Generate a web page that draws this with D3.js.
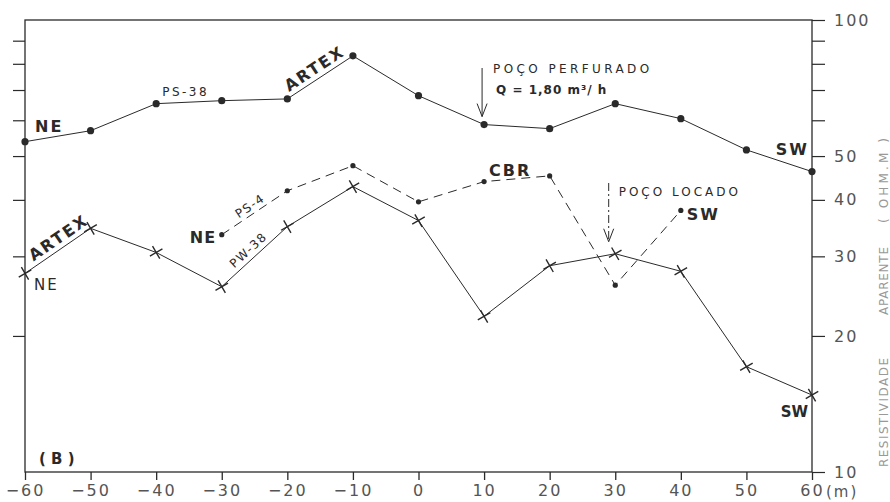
<!DOCTYPE html>
<html>
<head>
<meta charset="utf-8">
<script src="https://cdn.jsdelivr.net/npm/d3@7"></script>
<style>
  html, body { margin: 0; padding: 0; background: #fff; }
  svg { display: block; font-family: "DejaVu Sans", sans-serif; }
</style>
</head>
<body>
<div id="chart"></div>
<script>
// distances (m) along the profile
const distance = [-60, -50, -40, -30, -20, -10, 0, 10, 20, 30, 40, 50, 60];
// apparent resistivity (ohm.m)
const ps38 = [53.8, 56.9, 65.3, 66.3, 66.9, 83.3, 68.0, 58.7, 57.5, 65.3, 60.5, 51.6, 46.2];
const ps4Distance = [-30, -20, -10, 0, 10, 20, 30, 40];
const ps4 = [33.5, 41.9, 47.6, 39.6, 43.9, 45.2, 25.9, 37.9];
const pw38 = [27.5, 34.6, 30.6, 25.7, 34.9, 42.8, 36.0, 22.1, 28.6, 30.4, 27.8, 17.1, 14.8];

const xTicks = [-60, -50, -40, -30, -20, -10, 0, 10, 20, 30, 40, 50, 60];
const yTicks = [10, 20, 30, 40, 50, 60, 70, 80, 90, 100];
const yTickLabels = [10, 20, 30, 40, 50, 100];

const width = 890, height = 502;
const ink = '#2a2a2a';

const svg = d3.select('#chart').append('svg').attr('width', width).attr('height', height);

const x = d3.scaleLinear().domain([-60, 60]).range([25, 812]);
const y = d3.scaleLog().domain([10, 100]).range([472, 20]);

// frame
svg.append('rect')
  .attr('x', x(-60)).attr('y', y(100))
  .attr('width', x(60) - x(-60)).attr('height', y(10) - y(100))
  .attr('fill', 'none').attr('stroke', ink).attr('stroke-width', 1.3);

// bottom axis
const gx = svg.append('g').attr('transform', `translate(0,${y(10)})`)
  .call(d3.axisBottom(x).tickValues(xTicks).tickSize(8).tickPadding(5));
gx.select('.domain').remove();
gx.selectAll('line').attr('stroke', ink).attr('stroke-width', 1.3);
gx.selectAll('text').attr('font-size', 16).attr('fill', '#555').attr('letter-spacing', 2)
  .attr('font-family', '"DejaVu Sans", sans-serif');
svg.append('text').attr('x', x(60) + 14).attr('y', y(10) + 25)
  .attr('font-size', 15).attr('fill', '#555').attr('letter-spacing', 2).text('(m)');

// left axis: ticks only
const gl = svg.append('g').attr('transform', `translate(${x(-60)},0)`)
  .call(d3.axisLeft(y).tickValues(yTicks.filter(v => v > 10 && v < 100)).tickSize(12).tickFormat(''));
gl.select('.domain').remove();
gl.selectAll('line').attr('stroke', ink).attr('stroke-width', 1.2);

// right axis
const gr = svg.append('g').attr('transform', `translate(${x(60)},0)`)
  .call(d3.axisRight(y).tickValues(yTicks).tickSize(13).tickPadding(9)
    .tickFormat(d => yTickLabels.includes(d) ? d : ''));
gr.select('.domain').remove();
gr.selectAll('line').attr('stroke', ink).attr('stroke-width', 1.2);
gr.selectAll('text').attr('font-size', 16).attr('fill', '#555').attr('letter-spacing', 2)
  .attr('font-family', '"DejaVu Sans", sans-serif');

// y title
const title = [['RESISTIVIDADE', 467, 109], ['APARENTE', 315, 68], ['( OHM.M )', 223, 85]];
title.forEach(([t, y0, len]) => {
  svg.append('text').attr('transform', `translate(888,${y0}) rotate(-90)`)
    .attr('font-size', 12).attr('fill', '#999')
    .attr('textLength', len).attr('lengthAdjust', 'spacing').text(t);
});

// series
const line = d3.line().x(d => x(d[0])).y(d => y(d[1]));
const s1 = distance.map((d, i) => [d, ps38[i]]);
const s2 = ps4Distance.map((d, i) => [d, ps4[i]]);
const s3 = distance.map((d, i) => [d, pw38[i]]);

svg.append('path').datum(s1).attr('d', line).attr('fill', 'none').attr('stroke', ink).attr('stroke-width', 1);
svg.append('path').datum(s2).attr('d', line).attr('fill', 'none').attr('stroke', ink)
  .attr('stroke-width', 1).attr('stroke-dasharray', '9,6');
svg.append('path').datum(s3).attr('d', line).attr('fill', 'none').attr('stroke', ink).attr('stroke-width', 1);

svg.selectAll('.d1').data(s1).join('circle')
  .attr('cx', d => x(d[0])).attr('cy', d => y(d[1])).attr('r', 3.6).attr('fill', ink);
svg.selectAll('.d2').data(s2).join('circle')
  .attr('cx', d => x(d[0])).attr('cy', d => y(d[1])).attr('r', 2.6).attr('fill', ink);
svg.selectAll('.d3').data(s3).join('path')
  .attr('transform', d => `translate(${x(d[0])},${y(d[1])}) rotate(15)`)
  .attr('d', d3.symbol(d3.symbolTimes, 70)).attr('fill', 'none')
  .attr('stroke', ink).attr('stroke-width', 1.4);

// labels
function label(t, px, py, size, bold, spacing, anchor) {
  return svg.append('text').attr('x', px).attr('y', py)
    .attr('font-size', size).attr('font-weight', bold ? 'bold' : 'normal')
    .attr('letter-spacing', spacing || 0).attr('text-anchor', anchor || 'start')
    .attr('fill', ink).text(t);
}
// text placed along a segment a->b at fraction f, offset perpendicular (negative = above)
function along(t, a, b, off, size, bold, spacing, f = 0.5) {
  const ax = x(a[0]), ay = y(a[1]), bx = x(b[0]), by = y(b[1]);
  const ang = Math.atan2(by - ay, bx - ax);
  const mx = ax + (bx - ax) * f + Math.sin(ang) * -off;
  const my = ay + (by - ay) * f + Math.cos(ang) * off;
  svg.append('text').attr('transform', `translate(${mx},${my}) rotate(${ang * 180 / Math.PI})`)
    .attr('font-size', size).attr('font-weight', bold ? 'bold' : 'normal')
    .attr('letter-spacing', spacing || 0).attr('text-anchor', 'middle')
    .attr('fill', ink).text(t);
}

label('NE', x(-60) + 10, y(ps38[0]) - 10, 16, true, 2);
label('PS-38', x(-40) + 6, y(ps38[2]) - 8, 12, false, 2.5);
along('ARTEX', s1[4], s1[5], -5, 16, true, 2);
label('POÇO   PERFURADO', x(10) + 9, 73, 12, false, 3.4);
label('Q = 1,80 m³/ h', x(10) + 12, 94, 12, true, 1);
label('SW', x(60) - 3, y(ps38[12]) - 17, 16, true, 2, 'end');

label('CBR', x(10) + 5, y(ps4[4]) - 6, 16, true, 2);
label('NE', x(-30) - 32, y(ps4[0]) + 8, 16, true, 1);
along('PS-4', s2[0], s2[1], -4, 12, false, 1.5);
label('SW', x(40) + 6, y(ps4[7]) + 10, 16, true, 2);
label('POÇO  LOCADO', x(29) + 10, 196, 12, false, 3);

along('ARTEX', s3[0], s3[1], -5, 16, true, 2, 0.6);
label('NE', x(-60) + 9, y(pw38[0]) + 17, 15, false, 2);
along('PW-38', s3[3], s3[4], -5, 12, false, 1.5);
label('SW', x(60) - 4, y(pw38[12]) + 22, 15, true, 0, 'end');
label('( B )', x(-60) + 14, y(10) - 8, 15, true, 0);

// arrows
const arrowHead = (px, py) => `M${px - 5},${py - 13}L${px},${py}L${px + 5},${py - 13}`;
const ax1 = x(10) - 2;
svg.append('path').attr('d', `M${ax1},68V${y(ps38[7]) - 8}`).attr('stroke', ink).attr('fill', 'none');
svg.append('path').attr('d', arrowHead(ax1, y(ps38[7]) - 8)).attr('stroke', ink).attr('fill', 'none');
const ax2 = x(29);
svg.append('path').attr('d', `M${ax2},183V${y(pw38[9]) - 12}`).attr('stroke', ink).attr('fill', 'none')
  .attr('stroke-dasharray', '8,3,2,3');
svg.append('path').attr('d', arrowHead(ax2, y(pw38[9]) - 12)).attr('stroke', ink).attr('fill', 'none');
</script>
</body>
</html>
